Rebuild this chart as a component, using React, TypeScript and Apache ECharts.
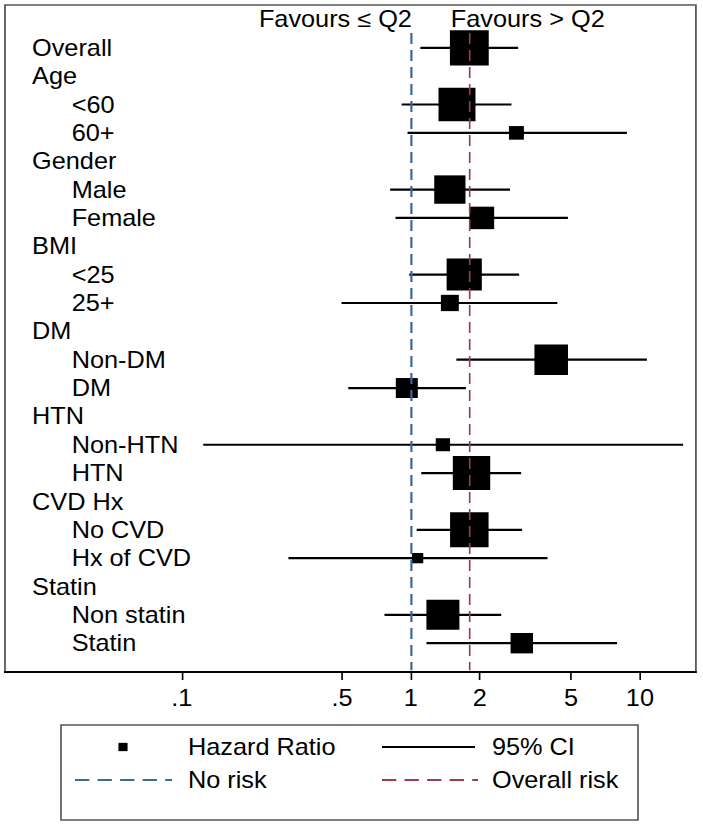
import React, { useEffect, useRef } from "react";
import * as echarts from "echarts";

// ---------- data ----------
const rowLabels = [
  "Overall", "Age", "<60", "60+", "Gender", "Male", "Female", "BMI", "<25", "25+",
  "DM", "Non-DM", "DM", "HTN", "Non-HTN", "HTN", "CVD Hx", "No CVD", "Hx of CVD",
  "Statin", "Non statin", "Statin",
];
const isHeader = [
  true, true, false, false, true, false, false, true, false, false,
  true, false, false, true, false, false, true, false, false,
  true, false, false,
];
const hazardRatio = [
  1.8, null, 1.59, 2.89, null, 1.48, 2.04, null, 1.71, 1.48,
  null, 4.1, 0.96, null, 1.38, 1.84, null, 1.8, 1.07,
  null, 1.38, 3.05,
];
const ciLower = [
  1.1, null, 0.911, 0.967, null, 0.812, 0.857, null, 0.983, 0.498,
  null, 1.58, 0.533, null, 0.124, 1.11, null, 1.06, 0.292,
  null, 0.767, 1.17,
];
const ciUpper = [
  2.94, null, 2.75, 8.78, null, 2.71, 4.85, null, 2.97, 4.36,
  null, 10.73, 1.74, null, 15.44, 3.03, null, 3.06, 3.95,
  null, 2.48, 7.95,
];
// relative study weight, drawn as box size
const boxWeight = [
  35.3, null, 33.6, 13.6, null, 28.4, 22.5, null, 32, 16.3,
  null, 30.5, 20, null, 13, 34, null, 35, 10.3,
  null, 30, 20.4,
];
const tickValues = [0.1, 0.5, 1, 2, 5, 10];
const tickLabels = [".1", ".5", "1", "2", "5", "10"];
const noRiskValue = 1;
const overallRiskValue = 1.8;
const favoursLeftText = "Favours \u2264 Q2";
const favoursRightText = "Favours > Q2";
const legendNames = ["Hazard Ratio", "95% CI", "No risk", "Overall risk"];

// ---------- layout ----------
const SX = 1.1; // horizontal stretch of the original picture
const W = 703 / SX;
const H = 826;
const FONT = "'Liberation Sans', Arial, Helvetica, sans-serif";
const FS = 23;
const BLUE = "#3d6a94";
const RED = "#9e3b4a";

export default function App() {
  const ref = useRef<HTMLDivElement>(null);

  useEffect(() => {
    const el = ref.current as HTMLDivElement;
    const chart = echarts.init(el, null, { renderer: "svg" });
    const lg = (v: number) => Math.log10(v);
    const tickLogs = tickValues.map(lg);

    const boxData: number[][] = [];
    const ciData: number[][] = [];
    rowLabels.forEach((_, i) => {
      const hr = hazardRatio[i];
      if (hr == null) return;
      boxData.push([lg(hr), i, boxWeight[i] as number]);
      ciData.push([lg(ciLower[i] as number), lg(ciUpper[i] as number), i]);
    });

    const refTop = -0.52;
    const refBottom = 21.95;

    const option: any = {
      animation: false,
      backgroundColor: "#ffffff",
      grid: {
        left: 5 / SX,
        right: W - 696 / SX,
        top: 5,
        bottom: H - 672,
        show: true,
        borderColor: "#555555",
        borderWidth: 1.6,
      },
      xAxis: {
        type: "value",
        min: lg(0.0169),
        max: lg(17.56),
        splitLine: { show: false },
        axisLine: { show: true, onZero: false, lineStyle: { color: "#000", width: 2.2 } },
        axisTick: {
          show: true,
          customValues: tickLogs,
          length: 8,
          lineStyle: { color: "#000", width: 1.5 },
        },
        axisLabel: {
          customValues: tickLogs,
          formatter: (v: number) => {
            let best = 0;
            tickLogs.forEach((t, k) => {
              if (Math.abs(t - v) < Math.abs(tickLogs[best] - v)) best = k;
            });
            return tickLabels[best];
          },
          fontSize: FS,
          fontFamily: FONT,
          color: "#000",
          margin: 14,
        },
      },
      yAxis: {
        type: "value",
        inverse: true,
        min: -1.51,
        max: 22.016,
        splitLine: { show: false },
        axisLine: { show: false },
        axisTick: { show: false },
        axisLabel: {
          inside: true,
          customValues: rowLabels.map((_, i) => i),
          margin: 24.6,
          fontSize: FS,
          fontFamily: FONT,
          color: "#000",
          formatter: (v: number) => {
            const i = Math.round(v);
            return isHeader[i] ? `{g|${rowLabels[i]}}` : `{s|${rowLabels[i]}}`;
          },
          rich: {
            g: { fontSize: FS, fontFamily: FONT, color: "#000" },
            s: { fontSize: FS, fontFamily: FONT, color: "#000", padding: [0, 0, 0, 36] },
          },
        },
      },
      series: [
        {
          type: "custom",
          name: legendNames[1],
          data: ciData,
          encode: { x: [0, 1], y: 2 },
          silent: true,
          z: 2,
          renderItem: (params: any, api: any) => {
            const a = api.coord([api.value(0), api.value(2)]);
            const b = api.coord([api.value(1), api.value(2)]);
            return {
              type: "line",
              shape: { x1: a[0], y1: a[1], x2: b[0], y2: b[1] },
              style: { stroke: "#000", lineWidth: 2.2 },
            };
          },
        },
        {
          type: "scatter",
          name: legendNames[0],
          data: boxData,
          encode: { x: 0, y: 1 },
          symbol: "rect",
          symbolSize: (v: number[]) => v[2],
          itemStyle: { color: "#000", opacity: 1 },
          silent: true,
          z: 3,
        },
        {
          type: "line",
          name: legendNames[2],
          data: [],
          markLine: {
            silent: true,
            symbol: "none",
            z: 6,
            label: { show: false },
            lineStyle: { color: BLUE, width: 2, type: [11, 6] },
            data: [[{ coord: [lg(noRiskValue), refTop] }, { coord: [lg(noRiskValue), refBottom] }]],
          },
        },
        {
          type: "line",
          name: legendNames[3],
          data: [],
          markLine: {
            silent: true,
            symbol: "none",
            z: 6,
            label: { show: false },
            lineStyle: { color: RED, width: 1.5, type: [11, 6] },
            data: [[{ coord: [lg(overallRiskValue), refTop] }, { coord: [lg(overallRiskValue), refBottom] }]],
          },
        },
      ],
    };
    chart.setOption(option);

    const px = chart.convertToPixel({ xAxisIndex: 0, yAxisIndex: 0 }, [lg(noRiskValue), 0]) as number[];
    const bx = px[0];
    const txt = (x: number, y: number, text: string, align: string) => ({
      type: "text",
      x,
      y,
      silent: true,
      style: {
        text,
        font: `${FS}px ${FONT}`,
        fill: "#000",
        align,
        verticalAlign: "middle",
        textAlign: align,
        textVerticalAlign: "middle",
      },
    });
    const r1 = 747;
    const r2 = 780;
    chart.setOption({
      graphic: [
        txt(bx + 1 / SX, 19, favoursLeftText, "right"),
        txt(bx + 40 / SX, 19, favoursRightText, "left"),
        {
          type: "rect",
          silent: true,
          shape: { x: 61 / SX, y: 725, width: (638 - 61) / SX, height: 95 },
          style: { fill: "none", stroke: "#555555", lineWidth: 1.5 },
        },
        {
          type: "rect",
          silent: true,
          shape: { x: 123 / SX - 4.15, y: r1 - 4.15, width: 8.3, height: 8.3 },
          style: { fill: "#000" },
        },
        txt(188 / SX, r1, legendNames[0], "left"),
        {
          type: "line",
          silent: true,
          shape: { x1: 382 / SX, y1: r1, x2: 475 / SX, y2: r1 },
          style: { stroke: "#000", lineWidth: 2 },
        },
        txt(492 / SX, r1, legendNames[1], "left"),
        {
          type: "line",
          silent: true,
          shape: { x1: 75 / SX, y1: r2, x2: 172 / SX, y2: r2 },
          style: { stroke: BLUE, lineWidth: 2, lineDash: [13, 7.5] },
        },
        txt(188 / SX, r2, legendNames[2], "left"),
        {
          type: "line",
          silent: true,
          shape: { x1: 382 / SX, y1: r2, x2: 478 / SX, y2: r2 },
          style: { stroke: RED, lineWidth: 2, lineDash: [13, 7.5] },
        },
        txt(492 / SX, r2, legendNames[3], "left"),
      ],
    });

    return () => {
      chart.dispose();
    };
  }, []);

  return (
    <div
      style={{
        position: "fixed",
        left: 0,
        top: 0,
        width: 703,
        height: H,
        overflow: "hidden",
        background: "#fff",
      }}
    >
      <div
        ref={ref}
        style={{
          width: W,
          height: H,
          transform: `scaleX(${SX})`,
          transformOrigin: "0 0",
        }}
      />
    </div>
  );
}
